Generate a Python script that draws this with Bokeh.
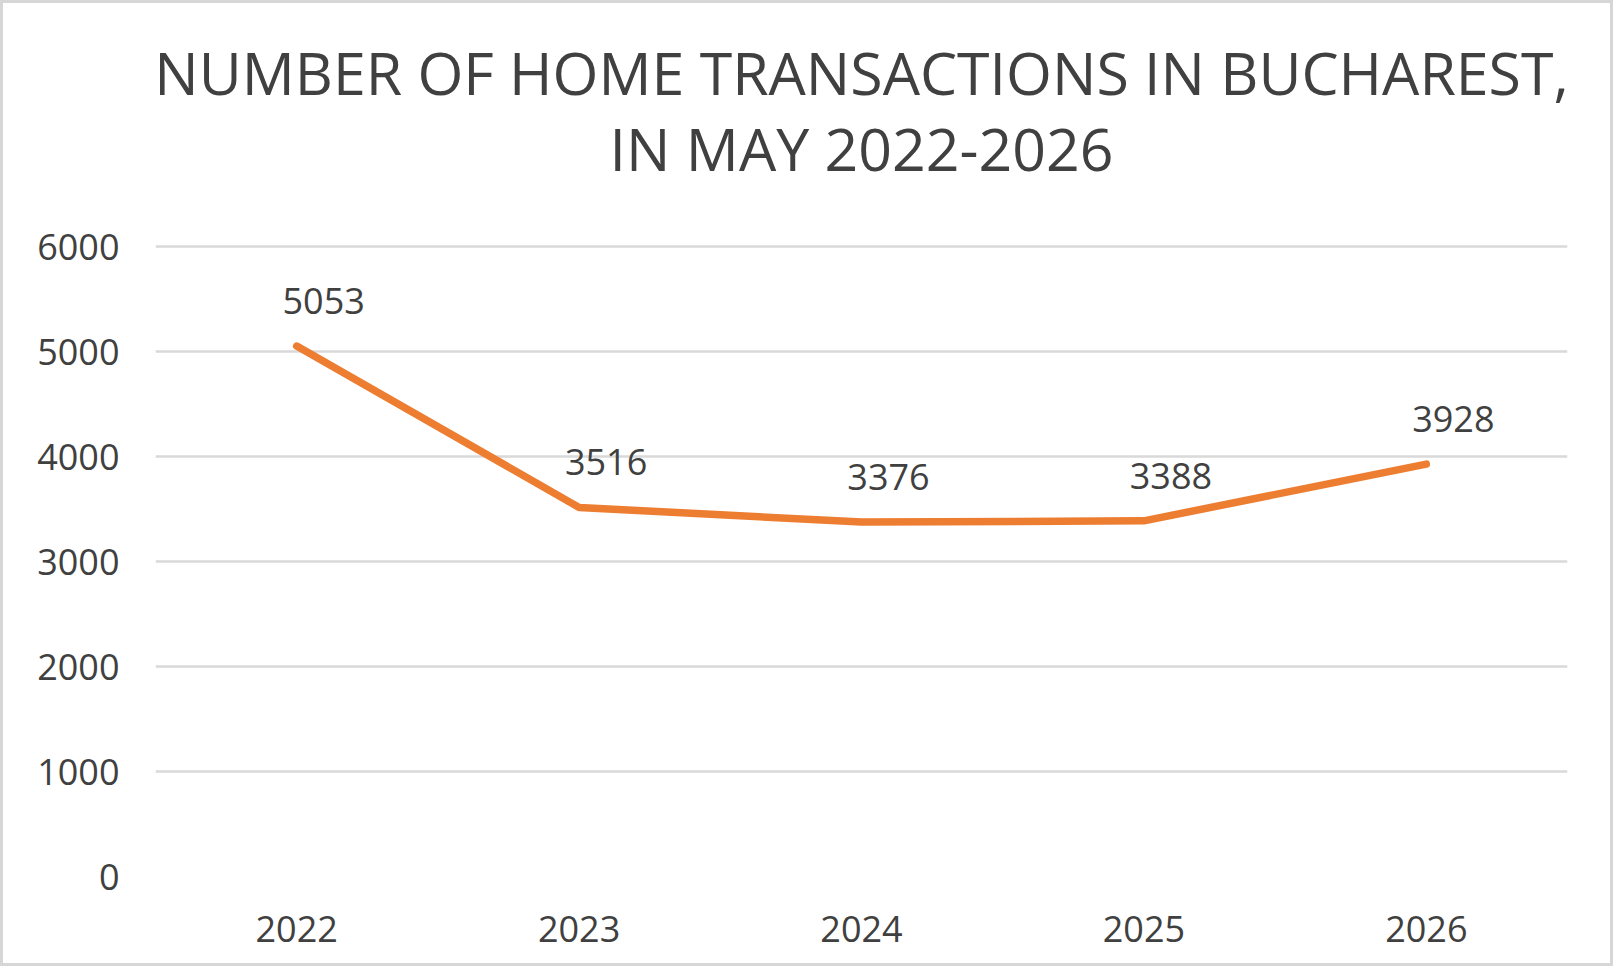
from bokeh.plotting import figure
from bokeh.models import ColumnDataSource, FactorRange, Range1d, LabelSet, FixedTicker, Title
from bokeh.core.properties import value
from bokeh.embed import file_html
from bokeh.resources import INLINE

years = ["2022", "2023", "2024", "2025", "2026"]
transactions = [5053, 3516, 3376, 3388, 3928]
y_ticks = [0, 1000, 2000, 3000, 4000, 5000, 6000]
title_line1 = "NUMBER OF HOME TRANSACTIONS IN BUCHAREST,"
title_line2 = "IN MAY 2022-2026"

TEXT = "#404040"
FONT = "Open Sans"

src = ColumnDataSource(dict(x=years, y=transactions, lbl=[str(v) for v in transactions]))

p = figure(width=1613, height=966, output_backend="svg", toolbar_location=None,
           x_range=FactorRange(*years, range_padding=0), y_range=Range1d(0, 6030),
           min_border_left=152, min_border_right=49, min_border_top=240, min_border_bottom=93)
p.styles = {"border": "3px solid #d6d6d6"}
p.outline_line_color = None
p.background_fill_color = "white"
p.border_fill_color = "white"

p.line("x", "y", source=src, line_color="#ED7D31", line_width=7.5,
       line_cap="round", line_join="round")

labels = LabelSet(x="x", y="y", text="lbl", source=src, x_offset=27, y_offset=32,
                  text_align="center", text_baseline="alphabetic",
                  text_font=value(FONT), text_font_size="36px", text_color=TEXT)
p.add_layout(labels)

p.xgrid.grid_line_color = None
p.ygrid.grid_line_color = "#d9d9d9"
p.ygrid.grid_line_width = 2.5
p.yaxis.ticker = FixedTicker(ticks=y_ticks)

for ax in (p.xaxis[0], p.yaxis[0]):
    ax.axis_line_color = None
    ax.major_tick_line_color = None
    ax.minor_tick_line_color = None
    ax.major_label_text_font = FONT
    ax.major_label_text_font_size = "36px"
    ax.major_label_text_color = TEXT
p.xaxis.major_label_standoff = 33
p.yaxis.major_label_standoff = 30

p.add_layout(Title(text=title_line2, align="center", text_font=FONT, text_font_size="59px",
                   text_font_style="normal", text_color=TEXT, standoff=112), "above")
p.add_layout(Title(text=title_line1, align="center", text_font=FONT, text_font_size="59px",
                   text_font_style="normal", text_color=TEXT, standoff=-125), "above")

open("out.html", "w").write(file_html(p, INLINE))
